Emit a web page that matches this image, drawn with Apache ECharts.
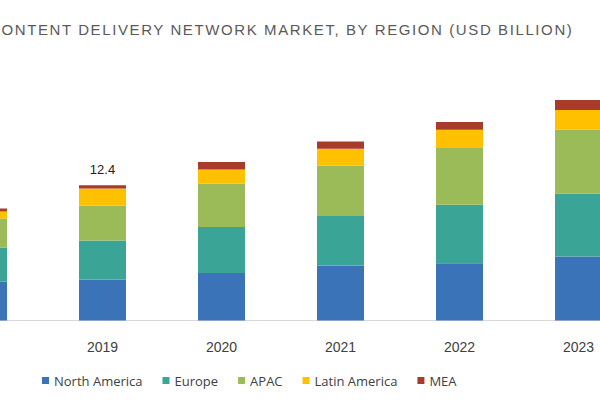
<!DOCTYPE html>
<html>
<head>
<meta charset="utf-8">
<script src="https://cdn.jsdelivr.net/npm/echarts@6/dist/echarts.min.js"></script>
<style>html,body{margin:0;padding:0;background:#fff;}#c{width:600px;height:400px;}</style>
</head>
<body>
<div id="c"></div>
<script>
var titleText = 'CONTENT DELIVERY NETWORK MARKET, BY REGION (USD BILLION)';
var years = ['2018', '2019', '2020', '2021', '2022', '2023'];
var seriesNames = ['North America', 'Europe', 'APAC', 'Latin America', 'MEA'];
var northAmerica = [3.58, 3.76, 4.35, 5.05, 5.26, 5.87];
var europe = [3.12, 3.58, 4.22, 4.53, 5.36, 5.75];
var apac = [2.66, 3.21, 3.97, 4.64, 5.28, 5.87];
var latinAmerica = [0.64, 1.56, 1.31, 1.53, 1.60, 1.83];
var mea = [0.28, 0.29, 0.68, 0.67, 0.70, 0.92];
var totalLabels = ['', '12.4', '', '', '', ''];
var colors = ['#3a73b8', '#3aa597', '#9bbb59', '#ffc000', '#a93b2b'];

var values = [northAmerica, europe, apac, latinAmerica, mea];
var series = seriesNames.map(function (name, i) {
  var isTop = i === values.length - 1;
  return {
    name: name,
    type: 'bar',
    stack: 'total',
    barWidth: 47,
    itemStyle: { color: colors[i] },
    data: values[i].map(function (v, j) {
      if (isTop && totalLabels[j]) {
        return {
          value: v,
          label: {
            show: true, position: 'top', distance: 9,
            formatter: totalLabels[j],
            color: '#222', fontSize: 13, fontFamily: 'Liberation Sans'
          }
        };
      }
      return v;
    })
  };
});

var chart = echarts.init(document.getElementById('c'), null, { renderer: 'svg' });
chart.setOption({
  animation: false,
  color: colors,
  graphic: [{
    type: 'text',
    id: 'chartTitle',
    x: -11, y: 29,
    style: {
      text: titleText,
      fill: '#5a5a5a',
      font: 'normal 15px "Liberation Sans"',
      textVerticalAlign: 'middle'
    }
  }],
  legend: {
    data: seriesNames,
    left: 42, top: 374, padding: 0,
    icon: 'rect', itemWidth: 7, itemHeight: 7, itemGap: 20,
    textStyle: { color: '#404040', fontSize: 13, fontFamily: 'Open Sans', padding: [0, 0, 0, 0] }
  },
  grid: { left: -76, top: 48, width: 714, height: 272.5, outerBoundsMode: 'none', containLabel: false },
  xAxis: {
    type: 'category',
    data: years,
    axisLine: { lineStyle: { color: '#d9d9d9', width: 1 } },
    axisTick: { show: false },
    axisLabel: { color: '#404040', fontSize: 14, fontFamily: 'Liberation Sans', margin: 19 }
  },
  yAxis: {
    type: 'value', min: 0, max: 25,
    show: false,
    splitLine: { show: false }
  },
  series: series
});

function spaceTitle() {
  var texts = document.querySelectorAll('#c svg text');
  for (var i = 0; i < texts.length; i++) {
    if (texts[i].textContent === titleText) {
      texts[i].style.letterSpacing = '1.6px';
    }
  }
}
spaceTitle();
chart.on('finished', spaceTitle);
</script>
</body>
</html>
